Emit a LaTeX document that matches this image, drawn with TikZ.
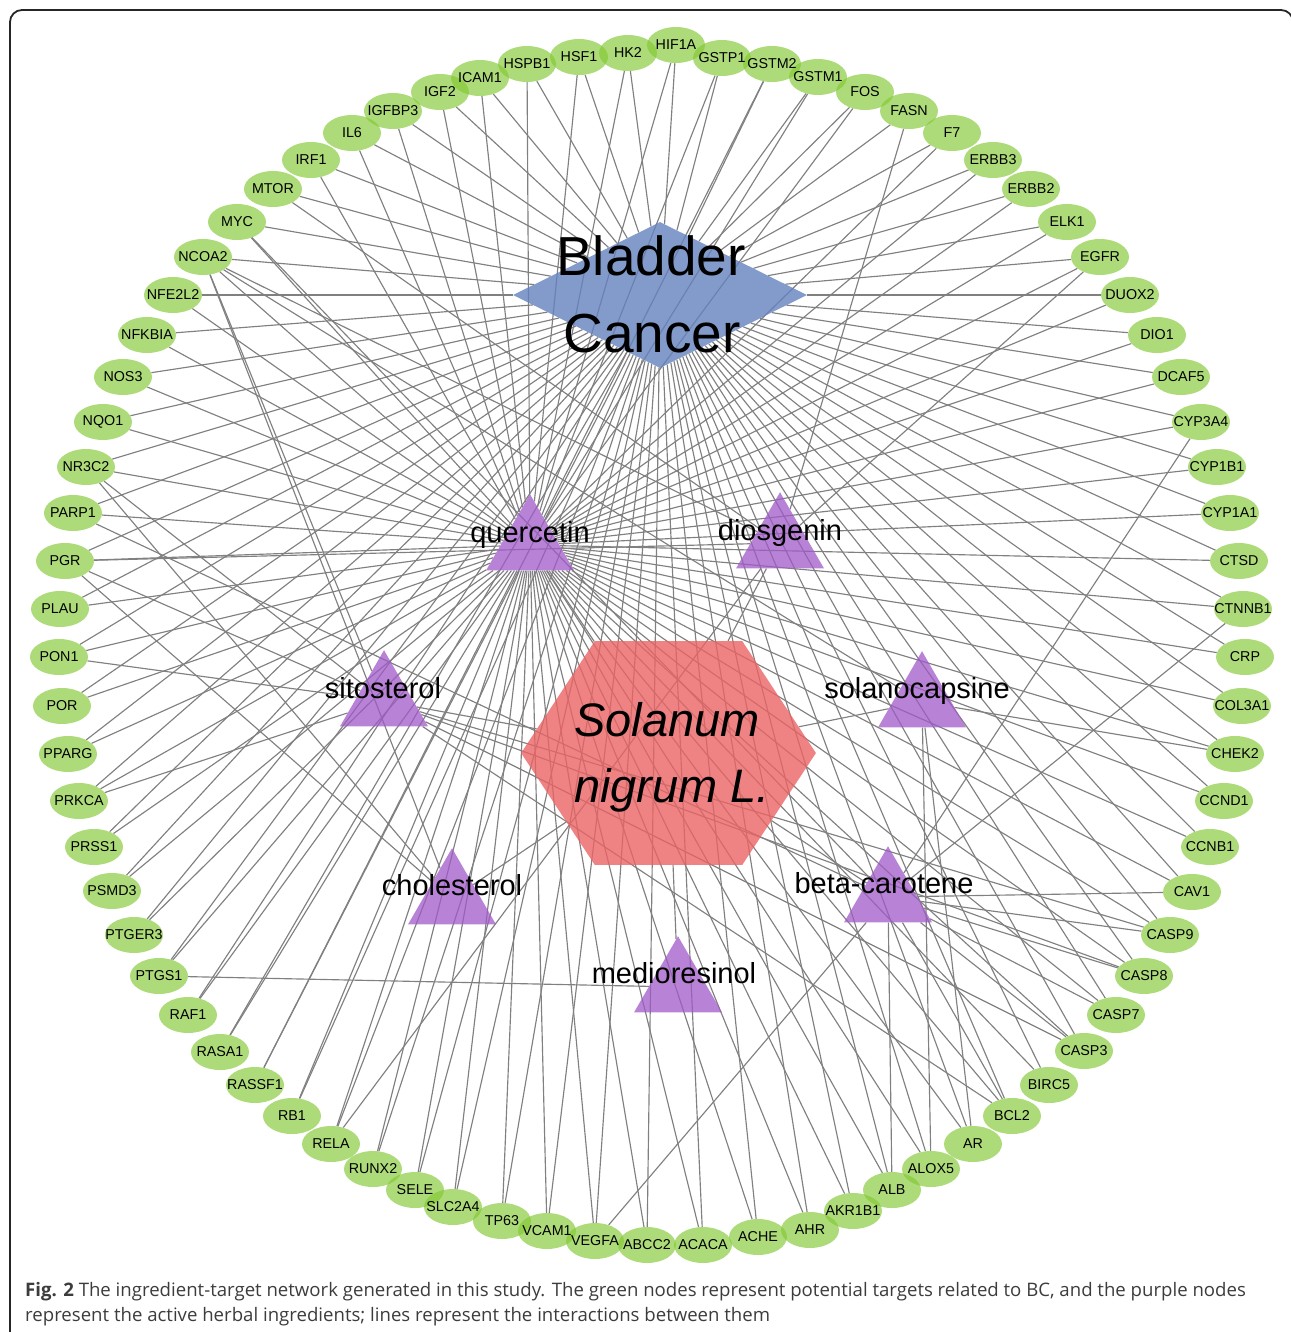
\documentclass[tikz,border=0pt]{standalone}
\usepackage{fontspec}
\setmainfont{Liberation Sans}
\newfontfamily\capfont{Open Sans}
\usetikzlibrary{shapes.geometric}
\pgfdeclarelayer{bg}
\pgfsetlayers{bg,main}
\definecolor{edgec}{RGB}{128,128,128}
\definecolor{tgreen}{RGB}{130,200,50}
\definecolor{ipurple}{RGB}{160,90,200}
\definecolor{hexred}{RGB}{235,100,100}
\definecolor{dblue}{RGB}{100,130,190}
\definecolor{captext}{RGB}{60,60,60}
\def\targets{ABCC2/647/1245,ACACA/703/1245,ACHE/758/1237,AHR/810/1230,AKR1B1/853/1211,ALB/892/1190,ALOX5/931/1169,AR/973/1144,BCL2/1012/1116,BIRC5/1049/1085,CASP3/1084/1051,CASP7/1116/1015,CASP8/1144/976,CASP9/1170/935,CAV1/1192/892,CCNB1/1210/847,CCND1/1224/801,CHEK2/1235/754,COL3A1/1242/706,CRP/1245/657,CTNNB1/1243/609,CTSD/1239/561,CYP1A1/1230/513,CYP1B1/1217/467,CYP3A4/1201/422,DCAF5/1181/377,DIO1/1157/335,DUOX2/1130/295,EGFR/1100/257,ELK1/1067/222,ERBB2/1031/189,ERBB3/993/160,F7/952/133,FASN/909/111,FOS/865/92,GSTM1/818/77,GSTM2/772/64,GSTP1/722/58,HIF1A/676/45,HK2/628/53,HSF1/579/57,HSPB1/527/64,ICAM1/480/78,IGF2/440/92,IGFBP3/393/111,IL6/352/133,IRF1/311/160,MTOR/273/189,MYC/237/222,NCOA2/203/257,NFE2L2/173/295,NFKBIA/147/335,NOS3/123/377,NQO1/103/422,NR3C2/86/467,PARP1/73/513,PGR/65/561,PLAU/60/609,PON1/59/657,POR/62/706,PPARG/68/754,PRKCA/79/801,PRSS1/94/847,PSMD3/112/891,PTGER3/134/935,PTGS1/159/976,RAF1/188/1015,RASA1/220/1052,RASSF1/255/1085,RB1/292/1116,RELA/331/1144,RUNX2/373/1169,SELE/415/1190,SLC2A4/453/1207,TP63/502/1221,VCAM1/547/1231,VEGFA/595/1241}
\begin{document}
\begin{tikzpicture}[x=1pt,y=-1pt,
  tnode/.style={ellipse, fill=tgreen, fill opacity=0.65, draw=none, minimum width=58pt, minimum height=36pt, inner sep=0pt},
  tlab/.style={font=\fontsize{14.3}{16}\selectfont, inner sep=0pt, text=black},
  ingr/.style={regular polygon, regular polygon sides=3, minimum size=101.6pt, inner sep=0pt, fill=ipurple, fill opacity=0.75, draw=none},
  ilab/.style={font=\fontsize{29}{32}\selectfont, inner sep=0pt, anchor=base},
  caption/.style={anchor=base west, inner sep=0pt, font=\capfont\fontsize{18.6}{22}\selectfont, text=captext},
  edge/.style={draw=edgec, line width=1.15pt}]
\useasboundingbox (0,0) rectangle (1290,1332);
% frame
\draw[line width=1.8pt, draw=black!85, rounded corners=12pt] (10,1345) -- (10,10) -- (1293,10) -- (1293,1345);
% targets
\foreach \n/\x/\y in \targets { \node[tnode] (t\n) at (\x,\y) {}; }
% central nodes
\node[diamond, aspect=2, minimum width=294pt, minimum height=146pt, inner sep=0pt, fill=dblue, fill opacity=0.8, draw=none] (bc) at (660,295) {};
\begin{scope}[shift={(668.5,753)}, xscale=1.14]
  \node[regular polygon, regular polygon sides=6, minimum size=258.6pt, inner sep=0pt, fill=hexred, fill opacity=0.8, draw=none, transform shape] (sn) at (0,0) {};
\end{scope}
% ingredients
\node[ingr] (q)  at (530,545) {};
\node[ingr] (d)  at (780,543) {};
\node[ingr] (si) at (384,701) {};
\node[ingr] (so) at (922,702) {};
\node[ingr] (ch) at (452,899) {};
\node[ingr] (bk) at (888,897) {};
\node[ingr] (m)  at (678,987) {};
% edges
\begin{pgfonlayer}{bg}
\foreach \n/\x/\y in \targets { \draw[edge] (t\n) -- (bc); }
\foreach \n in {ABCC2,ACACA,ACHE,AHR,AKR1B1,ALB,ALOX5,AR,BCL2,BIRC5,CASP3,CASP7,CASP8,CASP9,CAV1,CCNB1,CCND1,CHEK2,COL3A1,CRP,CTNNB1,CTSD,CYP1A1,CYP1B1,CYP3A4,DCAF5,DIO1,DUOX2,EGFR,ELK1,ERBB2,ERBB3,F7,FOS,GSTM1,GSTM2,GSTP1,HIF1A,HK2,HSF1,HSPB1,ICAM1,IGF2,IGFBP3,IL6,IRF1,MYC,NCOA2,NFE2L2,NFKBIA,NOS3,NQO1,NR3C2,PARP1,PGR,PLAU,PON1,POR,PPARG,PRKCA,PRSS1,PSMD3,PTGER3,PTGS1,RAF1,RASA1,RASSF1,RB1,RELA,RUNX2,SELE,SLC2A4,TP63,VCAM1,VEGFA} { \draw[edge] (t\n) -- (q); }
\foreach \n in {NCOA2,PGR,MTOR,FASN,RELA,EGFR} { \draw[edge] (t\n) -- (d); }
\foreach \n in {PGR,NCOA2,NR3C2,PON1,PRKCA,CASP3,CASP8,CASP9,BCL2} { \draw[edge] (t\n) -- (si); }
\foreach \n in {PGR,NCOA2,NR3C2} { \draw[edge] (t\n) -- (ch); }
\foreach \n in {NCOA2,AR,ALOX5,CHEK2} { \draw[edge] (t\n) -- (so); }
\foreach \n in {CAV1,CASP9,CASP8,CASP7,CASP3,BCL2,CTNNB1,CYP3A4,MYC,VEGFA,ALB,PARP1} { \draw[edge] (t\n) -- (bk); }
\foreach \n in {PTGS1} { \draw[edge] (t\n) -- (m); }
\foreach \i in {q,d,si,so,ch,bk,m} { \draw[edge] (\i) -- (sn); }
\end{pgfonlayer}
% labels
\foreach \n/\x/\y in \targets { \node[tlab] (l\n) at (t\n) {\n}; }
\node[font=\fontsize{55}{60}\selectfont, inner sep=0pt, anchor=base] (bct1) at (651,275) {Bladder};
\node[font=\fontsize{55}{60}\selectfont, inner sep=0pt, anchor=base] (bct2) at (652,352) {Cancer};
\node[font=\fontsize{47}{50}\selectfont\itshape, inner sep=0pt, anchor=base] (snt1) at (667,736) {Solanum};
\node[font=\fontsize{47}{50}\selectfont\itshape, inner sep=0pt, anchor=base] (snt2) at (672,802) {nigrum L.};
\node[ilab] (ql)  at (530,542) {quercetin};
\node[ilab] (dl)  at (780,540) {diosgenin};
\node[ilab] (sil) at (383,698) {sitosterol};
\node[ilab] (sol) at (917,698) {solanocapsine};
\node[ilab] (chl) at (452,895) {cholesterol};
\node[ilab] (bkl) at (884,893) {beta-carotene};
\node[ilab] (ml)  at (674,983) {medioresinol};
% caption
\node[caption] (cap1) at (25,1296) {\textbf{Fig. 2} The ingredient-target network generated in this study. The green nodes represent potential targets related to BC, and the purple nodes};
\node[caption] (cap2) at (25,1321) {represent the active herbal ingredients; lines represent the interactions between them};
\end{tikzpicture}
\end{document}
